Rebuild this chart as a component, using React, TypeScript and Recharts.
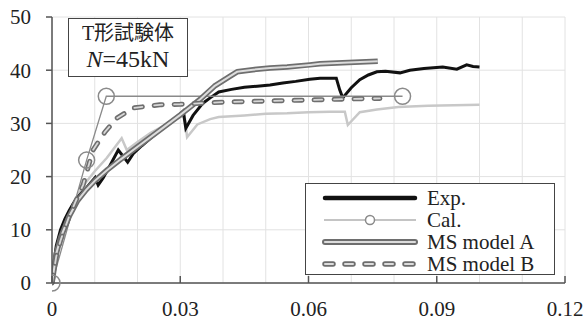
import React from 'react';
import { LineChart, Line, XAxis, YAxis, CartesianGrid, Legend } from 'recharts';

// ---- data ----
const xTicks = [0, 0.03, 0.06, 0.09, 0.12];
const yTicks = [0, 10, 20, 30, 40, 50];
const gridX = [0, 0.01, 0.02, 0.03, 0.04, 0.05, 0.06, 0.07, 0.08, 0.09, 0.1, 0.11, 0.12];
const legendOrder = ['Exp.', 'Cal.', 'MS model A', 'MS model B'];

const expX = [0, 0.0005, 0.001, 0.002, 0.003, 0.004, 0.005, 0.006, 0.007, 0.008, 0.009, 0.0101, 0.0108, 0.012, 0.0135, 0.0155, 0.0177, 0.019, 0.021, 0.023, 0.025, 0.027, 0.029, 0.0307, 0.0313, 0.033, 0.0353, 0.037, 0.039, 0.042, 0.045, 0.048, 0.051, 0.054, 0.057, 0.0603, 0.0627, 0.0665, 0.0673, 0.068, 0.07, 0.072, 0.074, 0.076, 0.078, 0.0814, 0.0837, 0.087, 0.0914, 0.0947, 0.097, 0.0985, 0.1];
const expY = [0, 4, 7, 10, 12, 13.6, 15, 16.1, 17, 17.8, 18.8, 19.8, 18.4, 19.8, 22, 25, 22.7, 24.3, 25.8, 27.2, 28.5, 29.8, 31, 32.3, 29.1, 31.5, 33.8, 34.8, 35.9, 36.4, 36.8, 37.0, 37.2, 37.6, 37.9, 38.3, 38.5, 38.5, 36.3, 34.8, 36.7, 38.2, 39.1, 39.7, 39.8, 39.5, 40.0, 40.3, 40.6, 40.2, 41.0, 40.7, 40.6];

const calX = [0, 0.0081, 0.0127, 0.082];
const calY = [0, 23.1, 35.1, 35.1];

const msAX = [0, 0.001, 0.002, 0.004, 0.006, 0.008, 0.01, 0.013, 0.016, 0.02, 0.025, 0.03, 0.0346, 0.038, 0.0415, 0.0433, 0.047, 0.051, 0.055, 0.0603, 0.0627, 0.068, 0.0762];
const msAY = [0, 5.5, 8.5, 12.5, 15.5, 17.5, 19.2, 21.3, 23.2, 25.6, 28.6, 31.6, 34.5, 37, 38.8, 39.7, 40.1, 40.4, 40.6, 41.0, 41.2, 41.4, 41.7];

const msBX = [0, 0.001, 0.002, 0.004, 0.0055, 0.0073, 0.0096, 0.0124, 0.0152, 0.019, 0.0252, 0.03, 0.04, 0.05, 0.06, 0.07, 0.0767];
const msBY = [0, 5, 8, 12.5, 15.3, 18.5, 25.0, 28.4, 31.0, 32.9, 33.5, 33.6, 34.0, 34.2, 34.4, 34.6, 34.7];

const otherX = [0, 0.001, 0.002, 0.004, 0.006, 0.008, 0.01, 0.0128, 0.0163, 0.0175, 0.02, 0.023, 0.026, 0.029, 0.031, 0.0316, 0.034, 0.037, 0.039, 0.045, 0.05, 0.055, 0.06, 0.065, 0.0685, 0.0692, 0.072, 0.076, 0.081, 0.088, 0.094, 0.1];
const otherY = [0, 6, 9.5, 13.5, 16.5, 19, 21, 23.5, 27.2, 25, 26.5, 28.2, 29.5, 30.8, 31.5, 27.4, 29.8, 30.8, 31.2, 31.5, 31.8, 31.9, 32.1, 32.2, 32.2, 29.7, 32.1, 32.6, 33.1, 33.3, 33.4, 33.5];

const zip = (xs: number[], ys: number[]) => xs.map((x, i) => ({ x, y: ys[i] }));
const expData = zip(expX, expY);
const calData = zip(calX, calY);
const msAData = zip(msAX, msAY);
const msBData = zip(msBX, msBY);
const otherData = zip(otherX, otherY);

const SERIF = "'Liberation Serif', 'DejaVu Serif', 'Noto Serif', serif";
const CJK = "'Liberation Serif', 'Noto Sans CJK JP', serif";

const renderSample = (key: string) => {
  const w = 96;
  if (key === 'Exp.') {
    return <line x1={3} x2={w - 3} y1={8} y2={8} stroke="#111" strokeWidth={4.5} strokeLinecap="round" />;
  }
  if (key === 'Cal.') {
    return (
      <g>
        <line x1={2} x2={w - 2} y1={8} y2={8} stroke="#8a8a8a" strokeWidth={1.2} />
        <circle cx={w / 2} cy={8} r={4.5} stroke="#8a8a8a" strokeWidth={1.5} fill="#fff" />
      </g>
    );
  }
  if (key === 'MS model A') {
    return (
      <g>
        <line x1={3} x2={w - 3} y1={8} y2={8} stroke="#6e6e6e" strokeWidth={6} strokeLinecap="round" />
        <line x1={3} x2={w - 3} y1={8} y2={8} stroke="#dcdcdc" strokeWidth={2.2} strokeLinecap="round" />
      </g>
    );
  }
  return (
    <g>
      <line x1={3} x2={w - 3} y1={8} y2={8} stroke="#6e6e6e" strokeWidth={5.5} strokeDasharray="8 12" strokeLinecap="round" />
      <line x1={3} x2={w - 3} y1={8} y2={8} stroke="#dcdcdc" strokeWidth={2} strokeDasharray="8 12" strokeLinecap="round" />
    </g>
  );
};

const LegendContent = (props: any) => {
  const items = (props.payload || [])
    .filter((p: any) => legendOrder.indexOf(p.value) >= 0)
    .sort((a: any, b: any) => legendOrder.indexOf(a.value) - legendOrder.indexOf(b.value));
  return (
    <div
      style={{
        boxSizing: 'border-box',
        width: 250,
        height: 92,
        border: '1.5px solid #444',
        background: '#fff',
        paddingTop: 3,
      }}
    >
      {items.map((it: any) => (
        <div key={it.value} style={{ display: 'flex', alignItems: 'center', height: 22, marginLeft: 16 }}>
          <svg width={96} height={16} style={{ display: 'block' }}>
            {renderSample(it.value)}
          </svg>
          <span style={{ marginLeft: 9, fontFamily: SERIF, fontSize: 21, color: '#222', lineHeight: '22px' }}>{it.value}</span>
        </div>
      ))}
    </div>
  );
};

export default function App() {
  return (
    <div style={{ position: 'absolute', left: 0, top: 0, width: 585, height: 322, background: '#fff' }}>
      <LineChart width={585} height={322} margin={{ top: 17, right: 20, left: 12, bottom: 9 }}>
        <CartesianGrid
          stroke="#e2e2e2"
          strokeWidth={1}
          verticalCoordinatesGenerator={({ xAxis, offset }: any) => {
            const s = xAxis && xAxis.scale;
            return gridX.map((v) => (typeof s === 'function' ? s(v) : offset.left + (v / 0.12) * offset.width));
          }}
        />
        <XAxis
          type="number"
          dataKey="x"
          domain={[0, 0.12]}
          ticks={xTicks}
          allowDataOverflow
          height={30}
          tickSize={-7}
          tickMargin={25}
          stroke="#555"
          strokeWidth={1.5}
          tick={{ fill: '#222', fontSize: 21, fontFamily: SERIF }}
          tickFormatter={(v: number) => (v === 0 ? '0' : String(v))}
        />
        <YAxis
          type="number"
          domain={[0, 50]}
          ticks={yTicks}
          width={40}
          tickSize={6}
          tickMargin={15}
          stroke="#555"
          strokeWidth={1.5}
          tick={{ fill: '#222', fontSize: 21, fontFamily: SERIF }}
        />
        <Legend
          layout="vertical"
          align="center"
          verticalAlign="middle"
          itemSorter={null as any}
          wrapperStyle={{ position: 'absolute', left: 305, top: 183, width: 250, height: 92 }}
          content={LegendContent}
        />
        <Line data={otherData} dataKey="y" name="other" type="linear" stroke="#c8c8c8" strokeWidth={2.5} dot={false} legendType="none" isAnimationActive={false} />
        <Line data={expData} dataKey="y" name="Exp." type="linear" stroke="#111" strokeWidth={3} dot={false} isAnimationActive={false} />
        <Line data={calData} dataKey="y" name="Cal." type="linear" stroke="#8a8a8a" strokeWidth={1.3} dot={{ r: 8, stroke: '#8a8a8a', strokeWidth: 1.5, fill: 'none' }} isAnimationActive={false} />
        <Line data={msAData} dataKey="y" name="MS model A" type="linear" stroke="#6e6e6e" strokeWidth={5.5} strokeLinejoin="round" dot={false} isAnimationActive={false} />
        <Line data={msAData} dataKey="y" name="MS model A inner" type="linear" stroke="#dcdcdc" strokeWidth={2} dot={false} legendType="none" isAnimationActive={false} />
        <Line data={msBData} dataKey="y" name="MS model B" type="linear" stroke="#6e6e6e" strokeWidth={5} strokeDasharray="8 12" strokeLinecap="round" dot={false} isAnimationActive={false} />
        <Line data={msBData} dataKey="y" name="MS model B inner" type="linear" stroke="#d8d8d8" strokeWidth={1.8} strokeDasharray="8 12" strokeLinecap="round" dot={false} legendType="none" isAnimationActive={false} />
      </LineChart>
      <div
        style={{
          position: 'absolute',
          left: 68,
          top: 18,
          width: 120,
          height: 59,
          boxSizing: 'border-box',
          border: '1.5px solid #444',
          background: '#fff',
          textAlign: 'center',
          color: '#222',
        }}
      >
        <div style={{ fontFamily: CJK, fontSize: 20, lineHeight: '26px', marginTop: 1 }}>T形試験体</div>
        <div style={{ fontFamily: SERIF, fontSize: 24, lineHeight: '27px' }}>
          <i>N</i>=45kN
        </div>
      </div>
    </div>
  );
}
